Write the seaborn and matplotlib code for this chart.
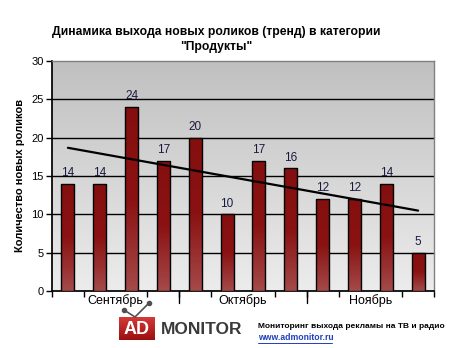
import numpy as np
import pandas as pd
import matplotlib
matplotlib.use("Agg")
import matplotlib.pyplot as plt
import seaborn as sns
from matplotlib.colors import LinearSegmentedColormap
from matplotlib.lines import Line2D

# ---- data ----
weeks = [f"W{i}" for i in range(1, 13)]
counts = [14, 14, 24, 17, 20, 10, 17, 16, 12, 12, 14, 5]
months = ["Сентябрь", "Октябрь", "Ноябрь"]
bars_per_month = [4, 4, 4]
title = 'Динамика выхода новых роликов (тренд) в категории\n"Продукты"'
ylabel = "Количество новых роликов"
yticks = [0, 5, 10, 15, 20, 25, 30]

sns.set_theme(style="white")
plt.rcParams['font.family'] = ['Liberation Sans', 'DejaVu Sans']
plt.rcParams['text.color'] = 'black'
plt.rcParams['axes.labelcolor'] = 'black'
plt.rcParams['xtick.color'] = 'black'
plt.rcParams['ytick.color'] = 'black'

fig = plt.figure(figsize=(4.7, 3.48), dpi=100)
ax = fig.add_axes([52/470, 1-291/348, (434-52)/470, (291-61)/348])

df = pd.DataFrame({"week": weeks, "count": counts})
sns.barplot(data=df, x="week", y="count", ax=ax, color="#8b1010",
            width=0.41, edgecolor="black", linewidth=1.0, zorder=3)

ax.set_xlim(-0.5, len(weeks) - 0.5)
ax.set_ylim(0, 30)

# background gradient
bg_cmap = LinearSegmentedColormap.from_list("bg", ["#ececec", "#c0c0c0"])
grad = np.linspace(0, 1, 256).reshape(-1, 1)
ax.imshow(grad, extent=[-0.5, len(weeks) - 0.5, 0, 30], origin="lower",
          cmap=bg_cmap, aspect="auto", zorder=0)

# gradient bars
bar_cmap = LinearSegmentedColormap.from_list("bar", ["#a54a4a", "#8a1212", "#850f0f"])
for p in list(ax.patches):
    x0, w, h = p.get_x(), p.get_width(), p.get_height()
    im = ax.imshow(grad, extent=[x0, x0 + w, 0, h], origin="lower",
                   cmap=bar_cmap, aspect="auto", zorder=3)
    im.set_clip_path(p)
    p.set_facecolor("none")
    p.set_zorder(4)
ax.set_xlim(-0.5, len(weeks) - 0.5)
ax.set_ylim(0, 30)

# gridlines
for yv in yticks[1:-1]:
    ax.axhline(yv, color="black", lw=1.0, zorder=1)

# trend line
xs = np.arange(len(counts))
k, b = np.polyfit(xs, counts, 1)
ax.plot(xs, k * xs + b, color="black", lw=1.6, zorder=5)

# labels above bars
for i, v in enumerate(counts):
    ax.text(i, v + 0.6, str(v), ha="center", va="bottom", fontsize=8.5,
            color="#1a1a40", zorder=6)

# spines
for s in ["top", "right"]:
    ax.spines[s].set_color("#808080")
    ax.spines[s].set_linewidth(1.0)
ax.spines["left"].set_color("black")
ax.spines["bottom"].set_color("black")

ax.set_yticks(yticks)
ax.tick_params(axis="y", which="both", left=True, length=4, width=1,
               labelsize=8, colors="black", pad=2)

# x ticks: short at every boundary, long at month boundaries
bounds = np.arange(len(weeks) + 1) - 0.5
ax.set_xticks(bounds, minor=True)
ax.tick_params(axis="x", which="minor", bottom=True, length=4, width=1, color="black")
cum = np.cumsum([0] + bars_per_month)
centers = [(cum[i] + cum[i + 1]) / 2 - 0.5 for i in range(len(months))]
ax.set_xticks(centers)
ax.set_xticklabels(months, fontsize=9)
ax.tick_params(axis="x", which="major", bottom=False, length=0, pad=2)
for c in cum[1:-1]:
    ax.plot([c - 0.5, c - 0.5], [0, -1.6], color="black", lw=1, clip_on=False, zorder=6)
ax.set_xlabel("")
ax.set_ylabel(ylabel, fontsize=8, fontweight="bold")
ax.yaxis.set_label_coords(-0.07, 0.5)

fig.text(216/470, 1 - 39.5/348, title, ha="center", va="center", fontsize=8.7,
         fontweight="bold", linespacing=1.35)

# logo
logo_cmap = LinearSegmentedColormap.from_list("logo", ["#9a1010", "#d83a3a"])
lax = fig.add_axes([119/470, 1 - 340/348, 35/470, 23/348])
lax.imshow(grad, cmap=logo_cmap, origin="lower", aspect="auto", extent=[0, 1, 0, 1])
lax.set_axis_off()
fig.text(136.5/470, 1 - 329/348, "AD", ha="center", va="center", color="white",
         fontsize=13, fontweight="bold")
fig.add_artist(Line2D([124/470, 135/470, 149/470], [1 - 310/348, 1 - 317/348, 1 - 303/348],
                      color="#505050", lw=1.2))
fig.add_artist(Line2D([124/470, 149/470], [1 - 310/348, 1 - 303/348], color="#505050",
                      lw=0, marker="o", markersize=3))
fig.text(161/470, 1 - 329/348, "MONITOR", ha="left", va="center", color="#3a3a3a",
         fontsize=12.5, fontweight="bold")
fig.text(258/470, 1 - 327/348, "Мониторинг выхода рекламы на ТВ и радио", ha="left",
         va="center", fontsize=6.0, fontweight="bold", color="black")
fig.text(258/470, 1 - 338/348, "www.admonitor.ru", ha="left", va="center",
         fontsize=6.2, fontweight="bold", color="#1f3fbf")
fig.add_artist(Line2D([258/470, 332/470], [1 - 342.5/348, 1 - 342.5/348],
                      color="#1f3fbf", lw=0.7))

fig.savefig("out.png", dpi=100, facecolor="white")
